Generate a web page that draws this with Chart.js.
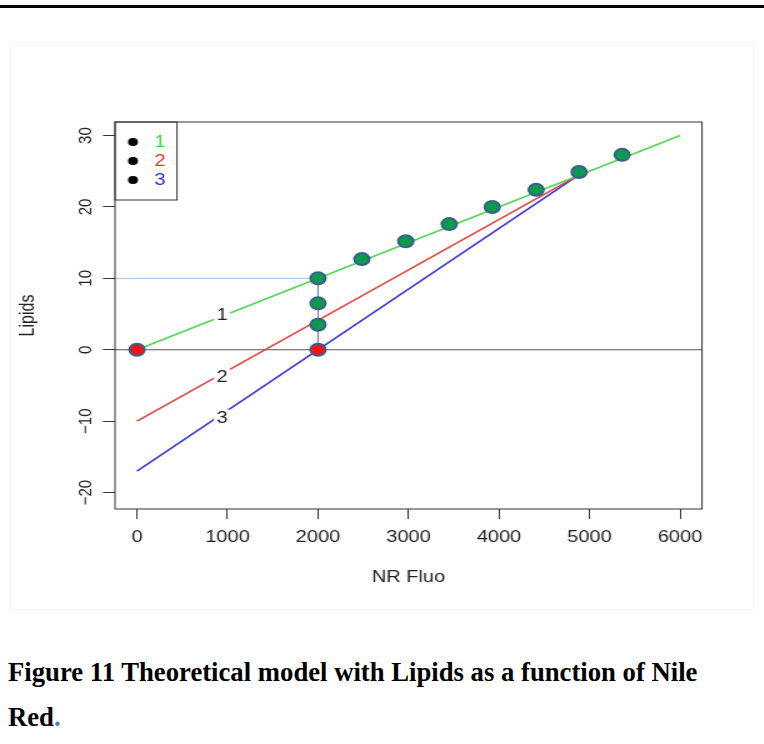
<!DOCTYPE html>
<html lang="en">
<head>
<meta charset="UTF-8">
<title>Theoretical model with Lipids as a function of Nile Red</title>
<script src="https://cdn.jsdelivr.net/npm/chart.js"></script>
<style>
  html, body { margin: 0; padding: 0; background: #fff; }
  body { width: 764px; height: 744px; position: relative; overflow: hidden; }
  .rule { position: absolute; left: 0; top: 5px; width: 764px; height: 3px; background: #000; }
  .frame { position: absolute; left: 10px; top: 42px; width: 742px; height: 566px; border: 1px solid #f6f6f6; }
  /* the R figure was pasted stretched sideways, so the plot is drawn narrow and widened */
  .plot { position: absolute; left: 0; top: 0; width: 611px; height: 620px; transform: scaleX(1.25); transform-origin: 0 0; }
  .caption { position: absolute; left: 8px; top: 650px; width: 756px; margin: 0;
             font-family: 'Liberation Serif', 'Times New Roman', serif; font-weight: bold;
             font-size: 26.7px; line-height: 45px; color: #000; white-space: nowrap; }
  .caption span { color: #4a7cc4; }
</style>
</head>
<body>
<div class="rule"></div>
<div class="frame"></div>
<div class="plot"><canvas id="lipids" width="611" height="620"></canvas></div>
<p class="caption">Figure 11 Theoretical model with Lipids as a function of Nile<br>Red<span>.</span></p>
<script>
// model lines (NR Fluo -> Lipids)
const line1X = [0, 6000];
const line1Y = [0, 30];
const line2X = [0, 4870];
const line2Y = [-10, 24.4];
const line3X = [0, 4870];
const line3Y = [-17, 24.4];

// measured points
const greenX = [2000, 2000, 2000, 2485, 2970, 3450, 3925, 4410, 4885, 5360];
const greenY = [10, 6.5, 3.5, 12.7, 15.2, 17.6, 20.0, 22.4, 24.9, 27.3];
const redX = [0, 2000];
const redY = [0, 0];

// guide lines
const hGuideX = [-243, 2000];
const hGuideY = [10, 10];
const vGuideX = [2000, 2000];
const vGuideY = [0, 10];

// labels written on the lines
const lineLabels = ['1', '2', '3'];
const lineLabelX = [940, 940, 940];
const lineLabelY = [4.9, -3.8, -9.5];

const legendLabels = ['1', '2', '3'];
const legendColors = ['#3fd83f', '#e8302c', '#2e2ed8'];

// axis ticks
const xTicks = [0, 1000, 2000, 3000, 4000, 5000, 6000];
const yTicks = [-20, -10, 0, 10, 20, 30];

const xMin = -243, xMax = 6243;
const yMin = -22.3, yMax = 31.9;

const FONT = "'Liberation Sans', Arial, sans-serif";
const pts = (xs, ys) => xs.map((x, i) => ({ x: x, y: ys[i] }));

const rPlotPlugin = {
  id: 'rPlot',
  beforeDatasetsDraw(chart) {
    const { ctx, chartArea: a, scales: { y } } = chart;
    const y0 = y.getPixelForValue(0);
    ctx.save();
    ctx.strokeStyle = '#555';
    ctx.lineWidth = 1.2;
    ctx.beginPath();
    ctx.moveTo(a.left, y0);
    ctx.lineTo(a.right, y0);
    ctx.stroke();
    ctx.restore();
  },
  afterDraw(chart) {
    const { ctx, chartArea: a, scales: { x, y } } = chart;
    ctx.save();

    // numbers sitting in gaps of the lines
    ctx.font = '16px ' + FONT;
    ctx.textAlign = 'center';
    ctx.textBaseline = 'middle';
    lineLabels.forEach((t, i) => {
      const px = x.getPixelForValue(lineLabelX[i]);
      const py = y.getPixelForValue(lineLabelY[i]);
      const w = ctx.measureText(t).width;
      ctx.fillStyle = '#fff';
      ctx.fillRect(px - w / 2 - 2, py - 8, w + 4, 16);
      ctx.fillStyle = '#222';
      ctx.fillText(t, px, py + 1);
    });

    // legend in top-left corner
    const lx = a.left, ly = a.top;
    ctx.fillStyle = '#fff';
    ctx.fillRect(lx, ly, 49.6, 78);
    ctx.strokeStyle = '#333';
    ctx.lineWidth = 1;
    ctx.strokeRect(lx, ly, 49.6, 78);
    legendLabels.forEach((t, i) => {
      const ry = ly + 20 + i * 19;
      ctx.fillStyle = '#000';
      ctx.beginPath();
      ctx.arc(lx + 14.4, ry, 4, 0, Math.PI * 2);
      ctx.fill();
      ctx.fillStyle = legendColors[i];
      ctx.fillText(t, lx + 36, ry + 1);
    });

    // box around the plot region
    ctx.strokeStyle = '#333';
    ctx.lineWidth = 1;
    ctx.strokeRect(a.left, a.top, a.right - a.left, a.bottom - a.top);
    ctx.restore();
  }
};

const ctx = document.getElementById('lipids').getContext('2d');
new Chart(ctx, {
  type: 'scatter',
  data: {
    datasets: [
      { data: pts(redX, redY), backgroundColor: '#ff1010', borderColor: '#3b5d8c',
        borderWidth: 2, pointRadius: 6 },
      { data: pts(greenX, greenY), backgroundColor: '#0a9c4c', borderColor: '#3b5d8c',
        borderWidth: 2, pointRadius: 6 },
      { data: pts(vGuideX, vGuideY), showLine: true, borderColor: '#4f7fb5', borderWidth: 1, pointRadius: 0 },
      { data: pts(hGuideX, hGuideY), showLine: true, borderColor: '#a8c2df', borderWidth: 1, pointRadius: 0 },
      { data: pts(line1X, line1Y), showLine: true, borderColor: '#55d655', borderWidth: 1.6, pointRadius: 0 },
      { data: pts(line2X, line2Y), showLine: true, borderColor: '#e04642', borderWidth: 1.6, pointRadius: 0 },
      { data: pts(line3X, line3Y), showLine: true, borderColor: '#3b3bd4', borderWidth: 1.6, pointRadius: 0 }
    ]
  },
  options: {
    responsive: false,
    animation: false,
    events: [],
    layout: { padding: { top: 122, right: 49.4, bottom: 31, left: 0 } },
    plugins: { legend: { display: false }, tooltip: { enabled: false } },
    scales: {
      x: {
        type: 'linear', min: xMin, max: xMax,
        afterFit: s => { s.height = 80; },
        afterBuildTicks: s => { s.ticks = xTicks.map(v => ({ value: v })); },
        ticks: { autoSkip: false, maxRotation: 0, padding: 9, color: '#222',
                 font: { family: FONT, size: 16 }, callback: v => String(v) },
        grid: { drawOnChartArea: false, drawTicks: true, tickLength: 10, color: '#333' },
        border: { display: false },
        title: { display: true, text: 'NR Fluo', color: '#222',
                 font: { family: FONT, size: 16 }, padding: { top: 0, bottom: 2 } }
      },
      y: {
        type: 'linear', min: yMin, max: yMax,
        afterFit: s => { s.width = 92; },
        afterBuildTicks: s => { s.ticks = yTicks.map(v => ({ value: v })); },
        ticks: { autoSkip: false, minRotation: 90, maxRotation: 90, crossAlign: 'center', padding: 1,
                 color: '#222', font: { family: FONT, size: 15 },
                 callback: v => String(v).replace('-', '\u2212') },
        grid: { drawOnChartArea: false, drawTicks: true, tickLength: 9.6, color: '#333' },
        border: { display: false },
        title: { display: true, text: 'Lipids', color: '#222',
                 font: { family: FONT, size: 16 }, padding: { top: 12.8, bottom: 0 } }
      }
    }
  },
  plugins: [rPlotPlugin]
});
</script>
</body>
</html>
